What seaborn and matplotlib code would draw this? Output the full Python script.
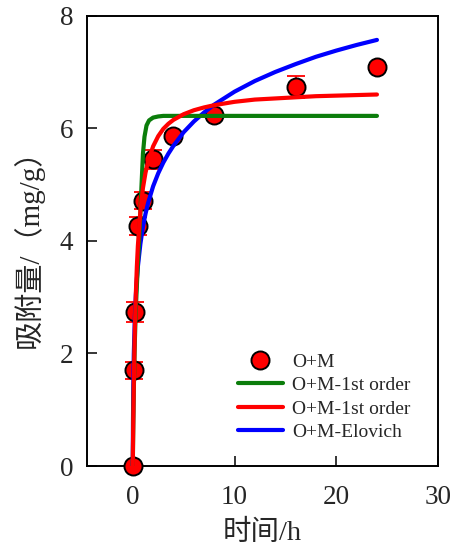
import matplotlib
matplotlib.use("Agg")
import matplotlib.pyplot as plt
import seaborn as sns
import numpy as np
import pandas as pd
from matplotlib.lines import Line2D

# ---- data ----
t_data = [0, 0.083, 0.25, 0.5, 1, 2, 4, 8, 16, 24]
q_data = [0, 1.70, 2.73, 4.26, 4.71, 5.45, 5.87, 6.24, 6.73, 7.08]
q_err = [0, 0.15, 0.18, 0.16, 0.15, 0.17, 0.04, 0.03, 0.19, 0.04]

t_green = [0, 0.02, 0.05, 0.1, 0.2, 0.3, 0.5, 0.65, 0.75, 0.85, 1.0, 1.15, 1.35, 1.6, 2, 2.5, 3, 4, 8, 24]
q_green = [0, 0.30, 0.75, 1.35, 2.20, 2.80, 3.60, 4.10, 4.50, 4.95, 5.55, 5.85, 6.05, 6.14, 6.19, 6.21, 6.22, 6.22, 6.22, 6.22]

t_curve = [0, 0.02, 0.05, 0.1, 0.2, 0.3, 0.4, 0.5, 0.75, 1, 1.25, 1.5, 2, 2.5, 3, 3.5, 4, 5, 6, 7,
           8, 10, 12, 14, 16, 18, 20, 22, 24]
q_red = [0, 0.36, 0.82, 1.47, 2.41, 3.06, 3.54, 3.91, 4.54, 4.94, 5.21, 5.41, 5.68, 5.86, 5.99, 6.08, 6.15, 6.25, 6.32, 6.37,
         6.41, 6.47, 6.51, 6.53, 6.55, 6.57, 6.58, 6.59, 6.60]
q_blue = [0, 0.79, 1.41, 1.99, 2.63, 3.03, 3.32, 3.54, 3.95, 4.25, 4.48, 4.67, 4.97, 5.20, 5.39, 5.55, 5.69, 5.93, 6.12, 6.28,
          6.42, 6.65, 6.84, 7.00, 7.14, 7.27, 7.38, 7.48, 7.57]

labels = ["O+M", "O+M-1st order", "O+M-1st order", "O+M-Elovich"]
x_ticks = [0, 10, 20, 30]
y_ticks = [0, 2, 4, 6, 8]

sns.set_style("ticks")
plt.rcParams["font.family"] = ["Liberation Serif", "Noto Sans CJK SC"]
plt.rcParams["axes.unicode_minus"] = False

fig = plt.figure(figsize=(4.59, 5.49), dpi=100)
ax = fig.add_axes([87 / 459, 1 - 466 / 549, (438 - 87) / 459, (466 - 15.7) / 549])

green = "#0b7d0b"
red = "#ff0000"
blue = "#0000ff"

ms = 13
ax.errorbar(t_data, q_data, yerr=q_err, fmt="none", ecolor=red, elinewidth=1.3,
            capsize=6.8, capthick=1.3, zorder=2, clip_on=False)
df = pd.DataFrame({"t": t_data, "q": q_data})
sns.scatterplot(data=df, x="t", y="q", ax=ax, s=ms ** 2, color=red, edgecolor="black",
                linewidth=1.4, zorder=3, clip_on=False, legend=False)

sns.lineplot(x=t_curve, y=q_blue, ax=ax, color=blue, lw=3, sort=False, estimator=None, zorder=4)
sns.lineplot(x=t_green, y=q_green, ax=ax, color=green, lw=3, sort=False, estimator=None, zorder=5)
sns.lineplot(x=t_curve, y=q_red, ax=ax, color=red, lw=3, sort=False, estimator=None, zorder=6)

ax.set_xlim(-4.5, 30)
ax.set_ylim(0, 8)
ax.set_xticks(x_ticks)
ax.set_yticks(y_ticks)
ax.tick_params(direction="in", length=7, width=1.3, labelsize=19.5, top=False, right=False)
ax.tick_params(axis="x", pad=14)
ax.tick_params(axis="y", pad=10)
for s in ax.spines.values():
    s.set_linewidth(1.4)
    s.set_color("black")
    s.set_visible(True)

ax.set_xlabel("时间/h", fontsize=20.5, labelpad=7)
ax.set_ylabel("吸附量/（mg/g）", fontsize=21, labelpad=11)

handles = [
    Line2D([], [], marker="o", linestyle="none", markersize=ms, markerfacecolor=red,
           markeredgecolor="black", markeredgewidth=1.4),
    Line2D([], [], color=green, lw=3),
    Line2D([], [], color=red, lw=3),
    Line2D([], [], color=blue, lw=3),
]
ax.legend(handles, labels, loc="upper left", bbox_to_anchor=((238 - 87) / 351, (466 - 353) / 450.3),
          frameon=False, fontsize=14, handlelength=2.3, handletextpad=0.5, labelspacing=0.3,
          borderpad=0, borderaxespad=0)

fig.savefig("out.png", dpi=100)
